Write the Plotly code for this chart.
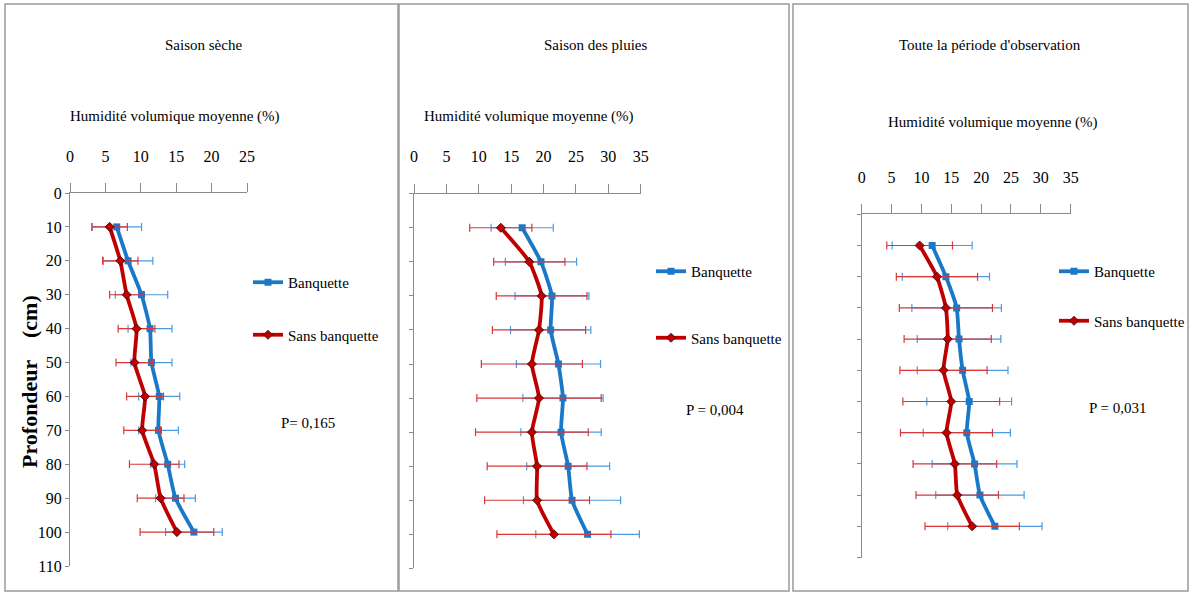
import plotly.graph_objects as go

W, H = 1198, 595

# Depths (cm) and mean volumetric moisture (%) with standard deviations
depth = [10, 20, 30, 40, 50, 60, 70, 80, 90, 100]
y_ticks = [0, 10, 20, 30, 40, 50, 60, 70, 80, 90, 100, 110]

dry_banq = [6.6, 8.2, 10.1, 11.3, 11.5, 12.6, 12.5, 13.8, 14.9, 17.5]
dry_banq_sd = [3.5, 3.5, 3.7, 3.1, 2.9, 2.9, 2.8, 2.4, 2.8, 4.0]
dry_sans = [5.6, 7.1, 8.0, 9.4, 9.1, 10.6, 10.2, 11.9, 12.8, 15.1]
dry_sans_sd = [2.5, 2.5, 2.4, 2.6, 2.6, 2.6, 2.6, 3.5, 3.3, 5.2]

wet_banq = [16.7, 19.6, 21.3, 21.1, 22.3, 23.0, 22.7, 23.8, 24.4, 26.8]
wet_banq_sd = [4.8, 5.5, 5.7, 6.2, 6.5, 6.2, 6.2, 6.4, 7.5, 8.0]
wet_sans = [13.4, 17.8, 19.7, 19.3, 18.2, 19.3, 18.2, 19.0, 19.0, 21.6]
wet_sans_sd = [4.8, 5.5, 7.0, 7.2, 7.8, 9.6, 8.7, 7.7, 8.1, 8.8]

all_banq = [11.8, 14.1, 15.9, 16.3, 16.9, 18.0, 17.6, 18.9, 19.8, 22.3]
all_banq_sd = [6.7, 7.3, 7.5, 7.0, 7.6, 7.1, 7.3, 7.1, 7.4, 7.9]
all_sans = [9.7, 12.6, 14.1, 14.4, 13.7, 15.0, 14.2, 15.6, 16.0, 18.5]
all_sans_sd = [5.5, 6.8, 7.8, 7.3, 7.3, 8.1, 7.7, 7.0, 6.9, 7.9]

titles = ["Saison sèche", "Saison des pluies", "Toute la période d'observation"]
p_labels = ["P= 0,165", "P = 0,004", "P = 0,031"]
series_names = ["Banquette", "Sans banquette"]
x_max = [25, 35, 35]

BLUE = "#1A78C8"
BLUE_ERR = "#4C9BE0"
RED = "#C00000"
RED_ERR = "#D83838"
FONT = "Liberation Serif, Times New Roman, DejaVu Serif, serif"


def px(x):
    return x / W


def py(y):
    return 1 - y / H


# Plot areas in pixels: (left, right, top, bottom)
areas = [(70, 247, 193, 566), (414, 640.7, 193.7, 568.4), (861.7, 1070.7, 214.3, 557.5)]
panels = [
    (dry_banq, dry_banq_sd, dry_sans, dry_sans_sd),
    (wet_banq, wet_banq_sd, wet_sans, wet_sans_sd),
    (all_banq, all_banq_sd, all_sans, all_sans_sd),
]

fig = go.Figure()
layout = dict(
    width=W, height=H,
    margin=dict(l=0, r=0, t=0, b=0, autoexpand=False),
    paper_bgcolor="white", plot_bgcolor="white",
    showlegend=True,
    font=dict(family=FONT, color="black", size=15),
)

legend_pos = [(248, 266), (651, 255), (1054, 255)]
legend_gap = [30, 44, 27]

for i, (banq, banq_sd, sans, sans_sd) in enumerate(panels):
    sfx = "" if i == 0 else str(i + 1)
    lg = "legend" if i == 0 else f"legend{i + 1}"
    xa, ya = f"x{sfx}", f"y{sfx}"
    fig.add_trace(go.Scatter(
        x=banq, y=depth, name=series_names[0], xaxis=xa, yaxis=ya,
        mode="lines+markers", legend=lg, legendgroup=f"b{i}",
        line=dict(color=BLUE, width=3.8, shape="spline", smoothing=0.5),
        marker=dict(symbol="square", size=7, color=BLUE),
        error_x=dict(type="data", array=banq_sd, color=BLUE_ERR, thickness=1.2, width=4),
    ))
    fig.add_trace(go.Scatter(
        x=sans, y=depth, name=series_names[1], xaxis=xa, yaxis=ya,
        mode="lines+markers", legend=lg, legendgroup=f"s{i}",
        line=dict(color=RED, width=3.8, shape="spline", smoothing=0.5),
        marker=dict(symbol="diamond", size=7, color=RED, line=dict(color="#400000", width=0.8)),
        error_x=dict(type="data", array=sans_sd, color=RED_ERR, thickness=1.2, width=4),
    ))

    l, r, t, b = areas[i]
    layout[f"xaxis{sfx}"] = dict(
        domain=[px(l), px(r)], anchor=ya, side="top",
        range=[0, x_max[i]], dtick=5, tick0=0,
        showline=True, linecolor="#8a8a8a", linewidth=1.2,
        ticks="outside", ticklen=9, tickcolor="#8a8a8a",
        showgrid=False, zeroline=False, ticklabelstandoff=15,
        tickfont=dict(family=FONT, size=16),
        automargin=False, fixedrange=True,
    )
    layout[f"yaxis{sfx}"] = dict(
        domain=[py(b), py(t)], anchor=xa,
        range=[110, 0], tickvals=y_ticks,
        showticklabels=(i == 0),
        showline=True, linecolor="#8a8a8a", linewidth=1.2,
        ticks="outside", ticklen=4, tickcolor="#8a8a8a",
        showgrid=False, zeroline=False,
        tickfont=dict(family=FONT, size=16),
        automargin=False, fixedrange=True,
    )
    lx, ly = legend_pos[i]
    layout[lg] = dict(
        x=px(lx), y=py(ly), xanchor="left", yanchor="top",
        bgcolor="rgba(0,0,0,0)", borderwidth=0,
        font=dict(family=FONT, size=15), tracegroupgap=legend_gap[i],
        itemwidth=30,
    )

fig.update_layout(**layout)

# Panel frames
frames = [(5, 4, 398, 591), (399, 4, 789, 591), (793, 4, 1188, 591)]
for x0, y0, x1, y1 in frames:
    fig.add_shape(type="rect", xref="paper", yref="paper",
                  x0=px(x0), x1=px(x1), y0=py(y1), y1=py(y0),
                  line=dict(color="#9a9a9a", width=1.5))


def label(text, x, y, size, angle=0):
    fig.add_annotation(text=text, x=px(x), y=py(y), xref="paper", yref="paper",
                       xanchor="center", yanchor="middle", showarrow=False,
                       textangle=angle, font=dict(family=FONT, size=size))


# Panel titles, axis titles and p-values
title_pos = [(203, 45), (595, 45), (990, 45)]
axis_title_pos = [(175, 117), (529, 117), (993, 123)]
p_pos = [(308, 423), (715, 410), (1118, 408)]
for i in range(3):
    label(titles[i], *title_pos[i], 15)
    label("Humidité volumique moyenne (%)", *axis_title_pos[i], 15)
    label(p_labels[i], *p_pos[i], 15)

# Depth axis title
label("<b>Profondeur    (cm)</b>", 29, 382, 22, angle=-90)

fig.write_html("out.html", config={"displayModeBar": False})
